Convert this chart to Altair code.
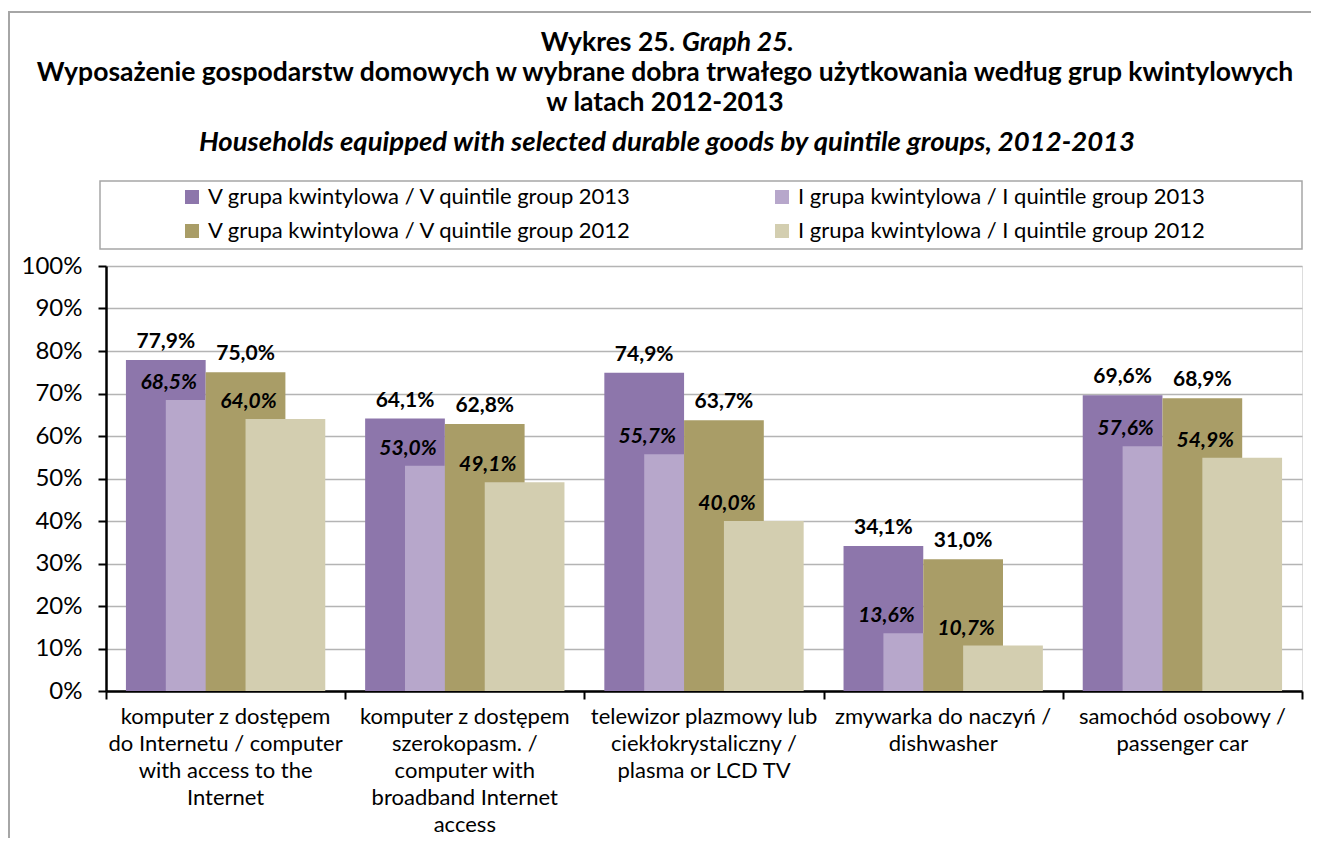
import altair as alt
import pandas as pd

categories = [
    "komputer z dostępem\ndo Internetu / computer\nwith access to the\nInternet",
    "komputer z dostępem\nszerokopasm. /\ncomputer with\nbroadband Internet\naccess",
    "telewizor plazmowy lub\nciekłokrystaliczny /\nplasma or LCD TV",
    "zmywarka do naczyń /\ndishwasher",
    "samochód osobowy /\npassenger car",
]
series = [
    "V grupa kwintylowa / V quintile group 2013",
    "I grupa kwintylowa / I quintile group 2013",
    "V grupa kwintylowa / V quintile group 2012",
    "I grupa kwintylowa / I quintile group 2012",
]
v2013 = [77.9, 64.1, 74.9, 34.1, 69.6]
i2013 = [68.5, 53.0, 55.7, 13.6, 57.6]
v2012 = [75.0, 62.8, 63.7, 31.0, 68.9]
i2012 = [64.0, 49.1, 40.0, 10.7, 54.9]
colors = ["#8d76ab", "#b7a7cb", "#a99d67", "#d3ceb0"]

values = [v2013, i2013, v2012, i2012]
FONT = "Lato"
W, H = 1196, 425

rows = []
for k, s in enumerate(series):
    for i, c in enumerate(categories):
        x0 = i + 1 / 12 + k / 6
        lab_x = i + 1 / 12 + (k - (k % 2)) / 6 + 1 / 6
        v = values[k][i]
        rows.append({
            "series": s, "k": k, "cat": i, "x0": x0, "x1": x0 + 1 / 3,
            "value": v, "lx": lab_x, "is_v": k % 2 == 0,
            "label": f"{v:.1f}".replace(".", ",") + "%",
        })
df = pd.DataFrame(rows)
cat_df = pd.DataFrame({"name": categories, "pos": [i + 0.5 for i in range(len(categories))]})

# legend lays entries out column by column: order so rows read V2013 | I2013, V2012 | I2012
leg_order = [0, 2, 1, 3]
leg_domain = [series[j] for j in leg_order]
leg_range = [colors[j] for j in leg_order]

xscale = alt.Scale(domain=[0, 5], nice=False, zero=False)
yscale = alt.Scale(domain=[0, 100], nice=False)

bars = alt.Chart(df).mark_bar(opacity=1).encode(
    x=alt.X("x0:Q", scale=xscale,
            axis=alt.Axis(values=[0, 1, 2, 3, 4, 5], labels=False, ticks=True, tickSize=8,
                          tickColor="black", tickWidth=2, domainColor="black", domainWidth=2.5,
                          grid=False, title=None)),
    x2="x1:Q",
    y=alt.Y("value:Q", scale=yscale, stack=None,
            axis=alt.Axis(values=list(range(0, 101, 10)), labelExpr="datum.value + '%'",
                          labelFontSize=24, labelFont=FONT, labelColor="black", labelPadding=16,
                          tickSize=8, tickColor="black", tickWidth=2, domainColor="black",
                          domainWidth=2.5, grid=True, gridColor="#b4b4b4", gridWidth=1.5,
                          title=None)),
    y2=alt.datum(0),
    color=alt.Color("series:N", scale=alt.Scale(domain=leg_domain, range=leg_range),
                    legend=alt.Legend(orient="none", legendX=75, legendY=-80, columns=2,
                                      columnPadding=138, rowPadding=12, symbolType="square",
                                      symbolSize=196, symbolStrokeWidth=0, labelFontSize=22,
                                      labelFont=FONT, labelColor="black", labelOffset=5,
                                      title=None, padding=0, labelLimit=0)),
    order=alt.Order("k:Q"),
)

v_labels = alt.Chart(df).transform_filter("datum.is_v").mark_text(
    font=FONT, fontSize=21, fontWeight="bold", baseline="middle", dy=-18, color="black"
).encode(x="lx:Q", y="value:Q", text="label:N")

i_labels = alt.Chart(df).transform_filter("!datum.is_v").mark_text(
    font=FONT, fontSize=21, fontWeight="bold", fontStyle="italic", baseline="middle",
    dy=-17, dx=3, color="black"
).encode(x="lx:Q", y="value:Q", text="label:N")

cat_labels = alt.Chart(cat_df).mark_text(
    font=FONT, fontSize=22, baseline="top", align="center", lineBreak="\n",
    lineHeight=27, color="black"
).encode(x="pos:Q", y=alt.value(H + 16), text="name:N")

one = pd.DataFrame({"a": [0]})


def txt(s, x, y, **kw):
    return alt.Chart(one).mark_text(font=FONT, color="black", baseline="middle", **kw).encode(
        x=alt.value(x), y=alt.value(y), text=alt.value(s))


CX = 665 - 106
titles = [
    txt("Wykres 25.", CX + 10, -223, fontSize=26.5, fontWeight="bold", align="right"),
    txt("Graph 25.", CX + 17, -223, fontSize=26.5, fontWeight="bold", fontStyle="italic", align="left"),
    txt("Wyposażenie gospodarstw domowych w wybrane dobra trwałego użytkowania według grup kwintylowych",
        CX, -193, fontSize=26.5, fontWeight="bold", align="center"),
    txt("w latach 2012-2013", CX, -163, fontSize=26.5, fontWeight="bold", align="center"),
    txt("Households equipped with selected durable goods by quintile groups, 2012-2013",
        CX + 2, -123, fontSize=27.5, fontWeight="bold", fontStyle="italic", align="center"),
]

legend_box = alt.Chart(one).mark_rect(fill="white", stroke="#a6a6a6", strokeWidth=1.5).encode(
    x=alt.value(-6), x2=alt.value(W), y=alt.value(-85), y2=alt.value(-17))
# outer frame of the figure (its right and bottom edges lie beyond the picture)
frame_top = alt.Chart(one).mark_rect(fill="#a6a6a6", strokeWidth=0).encode(
    x=alt.value(-98), x2=alt.value(W + 9), y=alt.value(-255), y2=alt.value(-253))
frame_left = alt.Chart(one).mark_rect(fill="#a6a6a6", strokeWidth=0).encode(
    x=alt.value(-98), x2=alt.value(-96), y=alt.value(-255), y2=alt.value(H + 147))

chart = alt.layer(frame_top, frame_left, legend_box, bars, v_labels, i_labels, cat_labels,
                  *titles).properties(
    width=W, height=H,
    padding={"left": 98, "top": 258, "right": 9, "bottom": 147},
    autosize=alt.AutoSizeParams(type="none"),
).configure_view(stroke=None).configure(background="white")

chart.save("out.html", embed_options={"renderer": "svg", "actions": False})
